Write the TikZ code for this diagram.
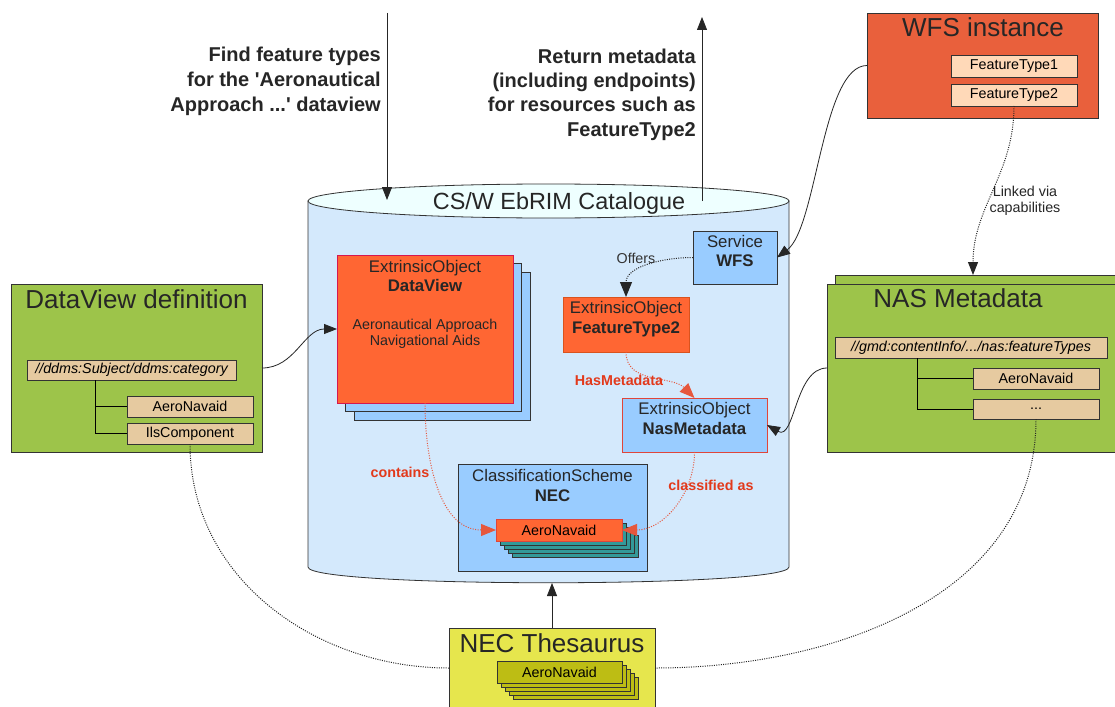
\documentclass[tikz,border=0pt]{standalone}
\usepackage{fontspec}
\setmainfont{Liberation Sans}
\usetikzlibrary{arrows.meta}
\definecolor{cgreen}{HTML}{9DC44A}
\definecolor{ctan}{HTML}{E6CAA0}
\definecolor{cwfs}{HTML}{E9603C}
\definecolor{cpeach}{HTML}{FFD9B8}
\definecolor{cblue}{HTML}{99CCFF}
\definecolor{corange}{HTML}{FF6633}
\definecolor{ccrimson}{HTML}{D6174F}
\definecolor{cdkorange}{HTML}{D9531E}
\definecolor{cred}{HTML}{E0453A}
\definecolor{cteal}{HTML}{339999}
\definecolor{cyellow}{HTML}{E6E64D}
\definecolor{colive}{HTML}{BDBD14}
\definecolor{cylbody}{HTML}{D4E9FC}
\definecolor{cyltop}{HTML}{EEFFFF}
\definecolor{clabel}{HTML}{E2391B}
\newcommand\fT{\fontsize{26}{30}\selectfont}
\newcommand\fH{\fontsize{16.8}{19.5}\selectfont}
\newcommand\fS{\fontsize{14.3}{16.5}\selectfont}
\newcommand\fB{\fontsize{20}{24.5}\selectfont\bfseries}
\begin{document}
\begin{tikzpicture}[x=1pt,y=1pt,yscale=-1,
  box/.style={draw=black!80,line width=0.8pt,inner sep=0pt,outer sep=0pt},
  txt/.style={anchor=base,inner sep=0pt,text=black!85},
  small/.style={box,minimum width=126pt,font=\fS},
  conn/.style={draw=black!85,line width=0.8pt,-{Triangle[length=13pt,width=10pt]}},
  dotc/.style={draw=black!85,line width=1pt,dash pattern=on 1pt off 1.3pt},
  reddot/.style={draw=clabel!85,line width=1pt,dash pattern=on 1pt off 1.5pt,-{Triangle[length=15pt,width=12pt]}},
  redlab/.style={font=\fS\bfseries,text=clabel,inner sep=1pt},
  bigb/.style={font=\fB,anchor=base east,inner sep=0pt,text=black!85}
]
\useasboundingbox (0,0) rectangle (1115,706);
\clip (0,0) rectangle (1115,706);
\fill[white] (0,0) rectangle (1115,706);

% ---- top texts and arrows
\coordinate (qtop) at (387,13);
\coordinate (catin) at (387,200);
\coordinate (catout) at (702,201);
\coordinate (rtop) at (702,17);
\node[bigb] (q1) at (381,62) {Find feature types};
\node[bigb] (q2) at (381,87) {for the \textquotesingle Aeronautical};
\node[bigb] (q3) at (381,111) {Approach ...\textquotesingle\ dataview};
\node[bigb] (r1) at (696,64) {Return metadata};
\node[bigb] (r2) at (696,88) {(including endpoints)};
\node[bigb] (r3) at (696,112) {for resources such as};
\node[bigb] (r4) at (696,136) {FeatureType2};

% ---- cylinder
\path[fill=cylbody,draw=black!80,line width=0.8pt] (308,201) -- (308,567) .. controls (308,588) and (789,588) .. (789,567) -- (789,201) -- cycle;
\draw[fill=cyltop,draw=black!80,line width=0.8pt] (548.5,201) ellipse [x radius=240.5pt, y radius=17pt];
\node[txt,font=\fontsize{23.4}{28}\selectfont] (catt) at (559,209) {CS/W EbRIM Catalogue};
\coordinate (cylbot) at (552,583);

% ---- DataView definition
\node[box,fill=cgreen,minimum width=251pt,minimum height=168pt] (dvdef) at (136.5,368) {};
\node[txt,font=\fT] (dvdeft) at (136.5,308) {DataView definition};
\node[box,fill=ctan,minimum width=209pt,minimum height=20pt,font=\fS\itshape] (dvpath) at (131.5,370) {//ddms:Subject/ddms:category};
\node[small,fill=ctan,minimum height=21pt] (dvaero) at (190,406.5) {AeroNavaid};
\node[small,fill=ctan,minimum height=21pt] (dvils) at (190,433.5) {IlsComponent};
\draw[line width=0.8pt] ([xshift=-36.5pt]dvpath.south) |- (dvils.west);
\draw[line width=0.8pt] ([xshift=-36.5pt]dvpath.south |- dvaero.west) -- (dvaero.west);

% ---- NAS Metadata
\node[box,fill=cgreen,minimum width=290pt,minimum height=169pt] (nasback) at (980,359.5) {};
\node[box,fill=cgreen,minimum width=298pt,minimum height=168pt] (nas) at (976,368) {};
\node[txt,font=\fT] (nast) at (958,307) {NAS Metadata};
\node[box,fill=ctan,minimum width=272pt,minimum height=21pt,font=\fS\itshape] (nmpath) at (971,347.5) {//gmd:contentInfo/.../nas:featureTypes};
\node[small,fill=ctan,minimum height=21pt] (nmaero) at (1036,378.5) {AeroNavaid};
\node[small,fill=ctan,minimum height=20pt] (nmdots) at (1036,409) {...};
\draw[line width=0.8pt] ([xshift=-54pt]nmpath.south) |- (nmdots.west);
\draw[line width=0.8pt] ([xshift=-54pt]nmpath.south |- nmaero.west) -- (nmaero.west);

% ---- WFS instance
\node[box,fill=cwfs,minimum width=231pt,minimum height=105pt] (wfsi) at (982.5,65.5) {};
\node[txt,font=\fT] (wfsit) at (983,37) {WFS instance};
\node[small,fill=cpeach,minimum height=22pt] (ft1) at (1014,66) {FeatureType1};
\node[small,fill=cpeach,minimum height=22pt] (ft2) at (1014,95) {FeatureType2};

% ---- DataView stack
\node[box,fill=cblue,minimum width=176pt,minimum height=148pt] (dv3) at (442,346) {};
\node[box,fill=cblue,minimum width=176pt,minimum height=148pt] (dv2) at (433.5,337.5) {};
\node[box,fill=corange,draw=ccrimson,minimum width=176pt,minimum height=148pt] (dv) at (425,329) {};
\node[txt,font=\fH] (dvh1) at (425,272) {ExtrinsicObject};
\node[txt,font=\fH\bfseries] (dvh2) at (425,291) {DataView};
\node[txt,font=\fS] (dvb1) at (425,329) {Aeronautical Approach};
\node[txt,font=\fS] (dvb2) at (425,345) {Navigational Aids};

% ---- Service WFS
\node[box,fill=cblue,minimum width=84pt,minimum height=53pt] (svc) at (735,257.5) {};
\node[txt,font=\fH] (svch1) at (735,247) {Service};
\node[txt,font=\fH\bfseries] (svch2) at (735,266) {WFS};

% ---- ExtrinsicObject FeatureType2
\node[box,fill=corange,draw=cdkorange,minimum width=126pt,minimum height=55pt] (ftobj) at (626,324.5) {};
\node[txt,font=\fH] (ftobjh1) at (626,313) {ExtrinsicObject};
\node[txt,font=\fH\bfseries] (ftobjh2) at (626,333) {FeatureType2};

% ---- ExtrinsicObject NasMetadata
\node[box,fill=cblue,draw=cred,minimum width=145pt,minimum height=54pt] (nmobj) at (694.5,425) {};
\node[txt,font=\fH] (nmobjh1) at (694.5,414) {ExtrinsicObject};
\node[txt,font=\fH\bfseries] (nmobjh2) at (694.5,434) {NasMetadata};

% ---- ClassificationScheme NEC
\node[box,fill=cblue,minimum width=189pt,minimum height=107pt] (cs) at (552.5,517.5) {};
\node[txt,font=\fH] (csh1) at (552.5,481) {ClassificationScheme};
\node[txt,font=\fH\bfseries] (csh2) at (552.5,501) {NEC};
\foreach \k in {4,3,2,1}
  \node[small,fill=cteal,minimum height=22pt] (an\k) at (559+4*\k,530+4*\k) {};
\node[small,fill=corange,draw=cred,minimum height=22pt] (aero) at (559,530) {AeroNavaid};

% ---- NEC Thesaurus
\node[box,fill=cyellow,minimum width=206pt,minimum height=80pt] (thes) at (552,668) {};
\node[txt,font=\fT] (thest) at (552,652) {NEC Thesaurus};
\foreach \k in {4,3,2,1}
  \node[small,fill=colive,minimum width=125pt,minimum height=22pt] (tn\k) at (559.5+4*\k,672+4*\k) {};
\node[small,fill=colive,minimum width=125pt,minimum height=22pt] (taero) at (559.5,672) {AeroNavaid};

% ---- connectors
\draw[conn] (qtop) -- (catin);
\draw[conn] (catout) -- (rtop);
\draw[conn] (dvdef.east) to[out=0,in=180] (dv.west);
\draw[conn] (wfsi.west) .. controls +(-45,0) and +(40,-30) .. (svc.east);
\draw[dotc,-{Triangle[length=13pt,width=10pt]}] (ft2.south) to[out=90,in=270] ([xshift=-7pt]nasback.north);
\node[font=\fS,align=center,text=black!85,inner sep=0pt] (lnk) at (1025,201) {Linked via\\capabilities};
\draw[dotc,-{Triangle[length=15pt,width=12pt]}] (svc.west) to[out=180,in=270] (ftobj.north);
\node[font=\fS,text=black!80,inner sep=0pt] (offl) at (636,258) {Offers};
\draw[reddot] (ftobj.south) to[out=90,in=225] (nmobj.north);
\node[redlab] (hasl) at (619,380) {HasMetadata};
\draw[reddot] (dv.south) to[out=90,in=180] (aero.west);
\node[redlab] (conl) at (400,472) {contains};
\draw[reddot] (nmobj.south) to[out=90,in=0] (aero.east);
\node[redlab] (clsl) at (711,485) {classified as};
\draw[conn] (nas.west) to[out=180,in=30] (nmobj.east);
\draw[conn] (thes.north) -- (cylbot);
\draw[dotc] (dvils.south) to[out=90,in=180] (thes.west);
\draw[dotc] (nmdots.south) to[out=90,in=0] (thes.east);
\end{tikzpicture}
\end{document}
